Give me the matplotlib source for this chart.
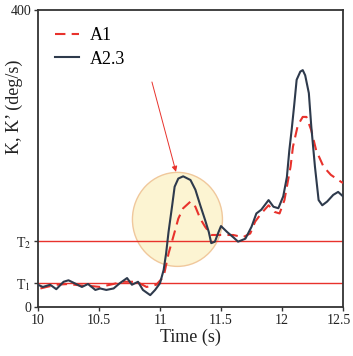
import matplotlib
matplotlib.use("Agg")
import matplotlib.pyplot as plt
from matplotlib.patches import Ellipse
from matplotlib.transforms import ScaledTranslation

# ---- data ----
t_a23 = [10.00, 10.04, 10.10, 10.15, 10.21, 10.25, 10.30, 10.36, 10.41, 10.47, 10.51, 10.56, 10.62,
         10.67, 10.73, 10.77, 10.82, 10.86, 10.92, 10.96, 11.00, 11.03, 11.05, 11.07, 11.10, 11.12,
         11.15, 11.19, 11.25, 11.29, 11.33, 11.37, 11.40, 11.42, 11.45, 11.48, 11.50, 11.55, 11.60,
         11.64, 11.70, 11.75, 11.79, 11.83, 11.89, 11.93, 11.97, 12.01, 12.04, 12.06, 12.08, 12.10,
         12.12, 12.15, 12.17, 12.19, 12.22, 12.24, 12.27, 12.30, 12.33, 12.37, 12.42, 12.46, 12.50]
v_a23 = [30, 27, 30, 24, 34, 36, 32, 27, 31, 23, 25, 23, 25,
         32, 39, 30, 34, 23, 16, 23, 32, 50, 72, 101, 137, 162,
         173, 176, 171, 158, 137, 117, 101, 86, 88, 101, 109, 101, 94,
         88, 92, 108, 126, 131, 144, 135, 133, 149, 175, 211, 240, 272,
         306, 317, 319, 312, 288, 243, 189, 144, 137, 142, 151, 155, 149]

t_a1 = [10.02, 10.07, 10.15, 10.25, 10.35, 10.45, 10.51, 10.59, 10.70, 10.81, 10.89, 10.97, 11.03,
        11.07, 11.12, 11.15, 11.19, 11.25, 11.29, 11.33, 11.37, 11.42, 11.46, 11.55, 11.60, 11.68,
        11.74, 11.78, 11.83, 11.89, 11.94, 11.98, 12.02, 12.04, 12.07, 12.09, 12.13, 12.17, 12.20,
        12.24, 12.28, 12.34, 12.40, 12.48, 12.50]
v_a1 = [25, 27, 30, 31, 29, 28, 27, 30, 34, 34, 27, 30, 41,
        72, 101, 119, 133, 142, 135, 119, 108, 97, 97, 97, 97, 94,
        99, 115, 126, 137, 128, 126, 144, 162, 189, 216, 245, 256, 256,
        238, 211, 189, 178, 169, 167]

T1 = 32
T2 = 89
xticks = [10, 10.5, 11, 11.5, 12, 12.5]
xticklabels = ["10", "10.5", "11", "11.5", "12", "12.5"]
yticks = [0, T1, T2, 400]
yticklabels = ["0", "T$_1$", "T$_2$", "400"]

# ---- style ----
plt.rcParams['font.family'] = ['Liberation Serif', 'DejaVu Serif']
plt.rcParams['mathtext.fontset'] = 'stix'

fig = plt.figure(figsize=(3.53, 3.56), dpi=100)
ax = fig.add_axes([0.1076, 0.1376, 0.8641, 0.8344])

red = '#e8322c'
dark = '#2e3a4c'

# highlight circle
circ = Ellipse((11.143, 118), width=90 / 122, height=94 / 0.7425,
               facecolor='#fcf4d2', edgecolor='#f0c89c', lw=1.0, zorder=1)
ax.add_patch(circ)

ax.axhline(T1, color=red, lw=1.0, zorder=2)
ax.axhline(T2, color=red, lw=1.0, zorder=2)

ax.plot(t_a1, v_a1, color=red, lw=1.5, ls=(0, (5, 3)), label='A1', zorder=3)
ax.plot(t_a23, v_a23, color=dark, lw=1.5, label='A2.3', zorder=4)

ax.annotate('', xy=(11.131, 182), xytext=(10.934, 303),
            arrowprops=dict(arrowstyle='-|>', color=red, lw=0.7,
                            mutation_scale=8, shrinkA=0, shrinkB=0), zorder=5)

ax.set_xlim(10, 12.5)
ax.set_ylim(0, 400)
ax.set_xticks(xticks)
ax.set_xticklabels(xticklabels)
ax.set_yticks(yticks)
ax.set_yticklabels(yticklabels)
ax.tick_params(axis='both', labelsize=10, direction='out', length=3, width=1, colors='#333333',
               labelcolor='#222222', pad=2)
ax.set_xlabel('Time (s)', fontsize=13, labelpad=1, color='#222222')
ax.set_ylabel('K, K’ (deg/s)', fontsize=13, color='#222222')
ax.yaxis.set_label_coords(-0.048, 0.675)
for s in ax.spines.values():
    s.set_color('#333333')
    s.set_linewidth(1.3)

# nudge last x tick label so it stays inside the figure
last = ax.get_xticklabels()[-1]
last.set_transform(last.get_transform() + ScaledTranslation(-4 / 100, 0, fig.dpi_scale_trans))

leg = ax.legend(loc='upper left', frameon=False, fontsize=13, handlelength=1.3,
                handletextpad=0.6, labelspacing=0.35, borderaxespad=0.4,
                bbox_to_anchor=(0.01, 0.99))

fig.savefig('out.png', dpi=100)
